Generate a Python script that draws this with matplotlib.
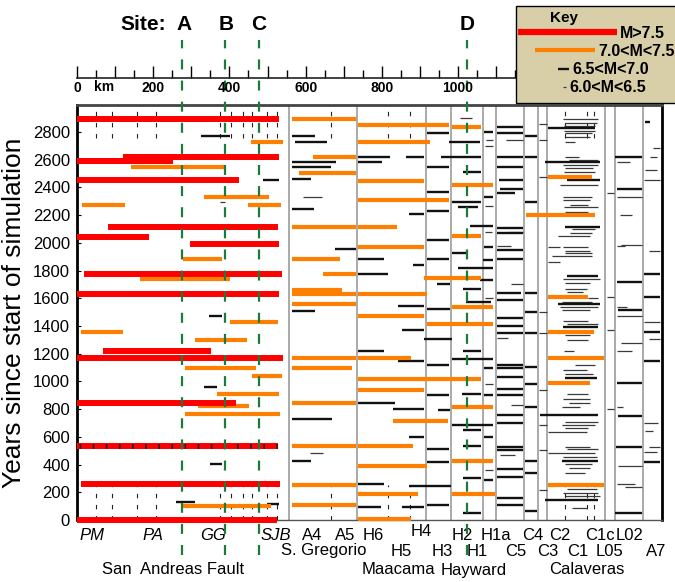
import numpy as np
import matplotlib
matplotlib.use('Agg')
import matplotlib.pyplot as plt
from matplotlib.transforms import blended_transform_factory
from matplotlib.patches import Rectangle
from matplotlib.lines import Line2D

plt.rcParams['font.family'] = ['Liberation Sans', 'DejaVu Sans']

# ruptures as (start km, end km, year)
quakes_m75 = [
    (0, 530, 2894), (121, 530, 2620), (0, 252, 2590), (0, 425, 2453),
    (81, 528, 2114), (0, 189, 2042), (297, 530, 1992), (18, 538, 1775),
    (0, 530, 1631), (68, 352, 1220), (0, 541, 1169), (0, 417, 844),
    (10, 533, 260), (0, 525, 0),
]
marked_quake = (0, 528, 534)

quakes_m70 = [
    # San Andreas
    (457, 541, 2728), (142, 388, 2547), (333, 504, 2331), (449, 535, 2273),
    (13, 126, 2273), (278, 381, 1883), (165, 402, 1739), (402, 528, 1429),
    (10, 121, 1357), (310, 446, 1299), (284, 470, 1097), (459, 538, 1039),
    (367, 530, 909), (318, 451, 823), (284, 533, 765), (278, 509, 101),
    # S. Gregorio
    (564, 732, 2894), (619, 732, 2620), (583, 732, 2504), (564, 732, 2114),
    (564, 690, 1883), (646, 732, 1775), (564, 696, 1660), (564, 732, 1631),
    (564, 732, 1559), (564, 732, 1169), (564, 722, 1097), (564, 732, 844),
    (564, 732, 534), (564, 732, 253), (564, 732, 108),
    # Maacama
    (737, 977, 2850), (737, 927, 2728), (737, 911, 2446), (737, 977, 2309),
    (737, 840, 2114), (737, 911, 1970), (737, 919, 1631), (737, 911, 1472),
    (737, 877, 1169), (737, 1061, 1020), (737, 911, 938), (829, 974, 714),
    (737, 882, 534), (737, 919, 390), (737, 895, 188), (737, 877, 5),
    # Hayward
    (984, 1061, 2836), (984, 1092, 2417), (984, 1061, 2049), (911, 1061, 1746),
    (984, 1092, 1537), (919, 1092, 1414), (984, 1092, 815), (984, 1092, 426),
    (984, 1097, 188),
    # Calaveras
    (1236, 1352, 2475), (1178, 1360, 2201), (1236, 1341, 1609), (1236, 1357, 1357),
    (1236, 1383, 1169), (1236, 1346, 989), (1236, 1383, 253),
]

quakes_m65 = [
    # San Andreas
    (325, 402, 2770), (488, 530, 2453), (270, 325, 1775), (346, 381, 1472),
    (333, 367, 960), (349, 381, 404), (260, 310, 130), (499, 530, 115),
    # S. Gregorio
    (564, 625, 2771), (572, 656, 2728), (564, 680, 2583), (564, 667, 2547),
    (564, 614, 2461), (564, 622, 2244), (677, 732, 1956), (564, 625, 1508),
    (564, 669, 729), (564, 614, 426),
    # Maacama
    (737, 821, 2620), (863, 911, 2620), (737, 800, 2583), (871, 911, 2208),
    (737, 805, 1883), (882, 911, 1840), (737, 816, 1775), (843, 911, 1544),
    (853, 911, 1371), (737, 805, 1220), (843, 911, 1148), (737, 834, 844),
    (829, 911, 801), (871, 911, 599), (737, 805, 260), (871, 982, 245),
    (737, 798, 94), (853, 911, 94),
    # H3
    (919, 976, 2793), (919, 976, 2547), (919, 976, 2367), (919, 976, 2230),
    (919, 976, 2020), (919, 976, 1883), (945, 979, 1703), (919, 979, 1523),
    (911, 984, 1306), (919, 976, 1118), (919, 976, 902), (948, 979, 794),
    (919, 976, 512), (919, 976, 418), (919, 976, 108),
    # Hayward
    (976, 1058, 2728), (955, 1060, 2620), (1013, 1060, 2511), (984, 1060, 2295),
    (1000, 1052, 2259), (1031, 1092, 2122), (984, 1021, 1927), (1000, 1092, 1818),
    (1013, 1060, 1667), (1021, 1087, 1573), (1013, 1060, 1220), (984, 1092, 1162),
    (1010, 1060, 909), (984, 1092, 686), (1013, 1060, 649), (1013, 1060, 534),
    (1013, 1060, 303), (1013, 1060, 51),
    # H1a
    (1068, 1092, 2803), (1068, 1092, 2334), (1068, 1092, 1968), (1065, 1092, 1877),
    (1057, 1092, 1732), (1068, 1092, 1095), (1068, 1092, 903), (1068, 1092, 602),
    (1068, 1092, 289),
    # C5
    (1102, 1171, 2836), (1102, 1171, 2793), (1102, 1171, 2620), (1102, 1171, 2547),
    (1106, 1171, 2453), (1110, 1171, 2389), (1102, 1150, 2360), (1102, 1171, 2107),
    (1102, 1171, 2071), (1102, 1171, 1948), (1102, 1171, 1883), (1102, 1166, 1638),
    (1102, 1171, 1588), (1102, 1171, 1458), (1102, 1171, 1400), (1102, 1171, 1349),
    (1102, 1171, 1118), (1102, 1171, 1097), (1102, 1171, 1032), (1102, 1171, 945),
    (1102, 1171, 902), (1102, 1171, 758), (1102, 1171, 700), (1102, 1171, 527),
    (1102, 1171, 505), (1102, 1171, 368), (1102, 1171, 310), (1102, 1171, 159),
    (1102, 1171, 108),
    # C4
    (1175, 1208, 2771), (1175, 1208, 2620), (1175, 1208, 2295), (1175, 1208, 1638),
    (1175, 1208, 1501), (1175, 1208, 1349), (1175, 1208, 1104), (1175, 1208, 981),
    (1175, 1208, 815), (1175, 1208, 426), (1175, 1208, 339), (1175, 1208, 65),
    # Calaveras (stronger ones)
    (1237, 1360, 2829), (1228, 1373, 2583), (1285, 1373, 2453), (1281, 1373, 2114),
    (1263, 1373, 1559), (1276, 1368, 1393), (1215, 1368, 758), (1272, 1368, 426),
    (1228, 1368, 144), (1281, 1364, 1025), (1285, 1368, 1761),
    # L02 / L05
    (1412, 1483, 2620), (1416, 1483, 2386), (1416, 1483, 1720), (1419, 1483, 1516),
    (1416, 1483, 992), (1419, 1483, 751), (1414, 1483, 530), (1412, 1483, 54),
    # A7
    (1489, 1530, 1776), (1489, 1530, 1607), (1489, 1530, 1360), (1489, 1530, 1150),
    (1489, 1530, 422), (1491, 1504, 2875),
]

quakes_m60 = [
    (375, 388, 2295), (593, 643, 2331), (612, 646, 483), (1005, 1037, 2901),
    (1072, 1092, 2742), (1070, 1092, 2699), (1070, 1092, 2266), (1070, 1090, 2081),
    (1070, 1092, 1600), (1070, 1092, 980), (1070, 1092, 361),
    (1126, 1171, 2742), (1130, 1171, 2081), (1102, 1140, 1980), (1140, 1171, 1700),
    (1102, 1130, 1310), (1140, 1171, 830), (1110, 1150, 470),
    (1212, 1232, 2858), (1212, 1232, 2740), (1212, 1232, 2475), (1212, 1232, 1501),
    (1212, 1232, 1349), (1212, 1232, 939), (1212, 1232, 686), (1212, 1232, 505),
    (1212, 1232, 216),
    # Calaveras swarms
    (1276, 1368, 2894), (1281, 1364, 2865), (1279, 1360, 2843), (1279, 1360, 2807),
    (1281, 1351, 2793), (1281, 1346, 2764), (1281, 1307, 2728),
    (1281, 1316, 2620), (1290, 1368, 2598), (1276, 1368, 2562), (1281, 1355, 2540),
    (1279, 1360, 2511), (1268, 1368, 2417),
    (1276, 1351, 2331), (1276, 1346, 2309), (1294, 1342, 2273), (1279, 1368, 2259),
    (1281, 1342, 2223),
    (1298, 1360, 2100), (1294, 1351, 2071), (1263, 1346, 2049), (1237, 1268, 1970),
    (1276, 1342, 1970), (1281, 1346, 1941), (1281, 1351, 1927), (1246, 1351, 1905),
    (1237, 1268, 1862),
    (1276, 1373, 1739), (1281, 1346, 1710), (1281, 1338, 1667), (1285, 1329, 1645),
    (1342, 1368, 1603), (1272, 1351, 1573), (1268, 1368, 1537), (1272, 1346, 1515),
    (1276, 1342, 1436), (1285, 1368, 1414), (1281, 1346, 1335), (1285, 1342, 1299),
    (1279, 1303, 1220),
    (1307, 1360, 1118), (1276, 1338, 1082), (1281, 1355, 1054),
    (1285, 1340, 909), (1276, 1346, 873), (1290, 1346, 844), (1272, 1320, 815),
    (1281, 1368, 707), (1272, 1360, 686), (1281, 1342, 664), (1237, 1338, 635),
    (1281, 1346, 527), (1285, 1368, 512), (1237, 1360, 483), (1276, 1364, 455),
    (1281, 1351, 404), (1290, 1346, 375), (1281, 1333, 339),
    (1285, 1364, 224), (1276, 1368, 195), (1281, 1373, 173), (1298, 1338, 87),
    (1390, 1408, 2357), (1390, 1408, 1612), (1390, 1408, 1371), (1390, 1408, 799),
    (1416, 1451, 2586), (1416, 1483, 2333), (1425, 1456, 2201), (1428, 1483, 1985),
    (1416, 1438, 1975), (1416, 1442, 1540), (1416, 1483, 1472), (1428, 1483, 1280),
    (1416, 1456, 1222), (1416, 1433, 818), (1419, 1483, 390), (1416, 1464, 260),
    (1438, 1483, 240),
    (1512, 1530, 2682), (1504, 1521, 2617), (1491, 1521, 2526), (1489, 1530, 2454),
    (1500, 1530, 1944), (1489, 1530, 1432), (1500, 1530, 1304), (1489, 1525, 703),
    (1491, 1512, 645), (1500, 1530, 530), (1489, 1521, 494),
]

column_edges_km = [556, 735, 916, 982, 1066, 1100, 1173, 1210, 1234, 1386, 1412, 1486]
segment_ticks_km = [50, 92, 157, 207, 375, 404, 436, 459, 499, 525, 667, 816, 874,
                    1281, 1338, 1357]

site_names = ['A', 'B', 'C', 'D']
site_km = [276, 389, 478, 1024]

seg_labels_row1 = ['PM', 'PA', 'GG', 'SJB', 'A4', 'A5', 'H6', 'H4', 'H2', 'H1a',
                   'C4', 'C2', 'C1c', 'L02']
seg_km_row1 = [39, 199, 357, 522, 617, 703, 777, 903, 1010, 1100, 1197, 1268, 1373, 1451]
seg_labels_row2 = ['S. Gregorio', 'H5', 'H3', 'H1', 'C5', 'C3', 'C1', 'L05', 'A7']
seg_km_row2 = [648, 850, 958, 1050, 1150, 1234, 1315, 1396, 1520]
fault_names = ['San  Andreas Fault', 'Maacama', 'Hayward', 'Calaveras']
fault_km = [252, 843, 1042, 1339]

W, H = 675, 582
def fx(px):
    return px / W
def fy(py):
    return 1 - py / H

fig = plt.figure(figsize=(W / 100, H / 100), dpi=100)
ax = fig.add_axes([fx(77), fy(520), fx(662) - fx(77), fy(105) - fy(520)])
ax.set_xlim(0, 1535)
ax.set_ylim(0, 2995)

def draw(events, color, lw, z):
    ev = np.array(events, dtype=float)
    ax.hlines(ev[:, 2], ev[:, 0], ev[:, 1], colors=color, linewidth=lw,
              capstyle='butt', zorder=z, clip_on=False)

ax.vlines(column_edges_km, 0, 2995, colors='#aaaaaa', linewidth=1.4, zorder=1)
for lo, hi in [(2760, 2995), (0, 250)]:
    ax.vlines(segment_ticks_km, lo, hi, colors='#222222', linewidth=0.8,
              linestyles=(0, (4, 6)), zorder=1)

draw(quakes_m60, '#3a3a3a', 0.9, 2)
draw(quakes_m65, '#111111', 1.7, 3)
draw(quakes_m70, '#ff8000', 3.0, 4)
draw(quakes_m75, '#ff0000', 4.3, 5)
ax.hlines(marked_quake[2], marked_quake[0], marked_quake[1], colors='#ff0000',
          linewidth=4.3, capstyle='butt', zorder=5)
ax.hlines(marked_quake[2], marked_quake[0] + 5, marked_quake[1], colors='#222222',
          linewidth=3.5, linestyles=(0, (0.35, 2.35)), zorder=5.5)

ax.vlines(site_km, -253, 3464, colors='#1b7a3c', linewidth=1.6,
          linestyles=(0, (4.5, 5)), zorder=7, clip_on=False)

for side in ['left', 'right']:
    ax.spines[side].set_linewidth(2)
    ax.spines[side].set_color('black')
ax.spines['top'].set_linewidth(2)
ax.spines['top'].set_color('#444444')
ax.spines['bottom'].set_linewidth(1)
ax.spines['bottom'].set_color('#555555')

ax.set_xticks([])
ax.set_yticks(np.arange(0, 2801, 200))
ax.tick_params(axis='y', direction='in', length=3, labelsize=12, pad=5)
ax.set_ylabel('Years since start of simulation', fontsize=19, labelpad=5)

# km scale above the plot
axk = fig.add_axes([fx(77), fy(78), fx(662) - fx(77), 0.03])
axk.set_xlim(0, 1535)
axk.patch.set_visible(False)
for side in ['left', 'right', 'top']:
    axk.spines[side].set_visible(False)
axk.spines['bottom'].set_bounds(0, 1150)
axk.spines['bottom'].set_color('#222222')
axk.spines['bottom'].set_linewidth(1.2)
axk.set_yticks([])
axk.set_xticks(np.arange(0, 1101, 100))
axk.set_xticks(np.arange(50, 1151, 100), minor=True)
axk.set_xticklabels(['0', '', '200', '', '400', '', '600', '', '800', '', '1000', ''],
                    fontweight='bold', fontsize=10)
axk.tick_params(axis='x', which='major', direction='in', length=8.5, width=1, pad=2)
axk.tick_params(axis='x', which='minor', direction='in', length=6, width=1)
axk.text(71, -0.1, 'km', transform=axk.get_xaxis_transform(), ha='center', va='top',
         fontsize=10, fontweight='bold')

# site labels
fig.text(fx(166), fy(25), 'Site:', ha='right', va='center', fontsize=15, fontweight='bold')
for name, px in zip(site_names, [184, 226, 259, 467]):
    fig.text(fx(px), fy(25), name, ha='center', va='center', fontsize=15, fontweight='bold')

# segment and fault names below
tr = blended_transform_factory(ax.transData, fig.transFigure)
for lab, km in zip(seg_labels_row1, seg_km_row1):
    italic = lab in ('PM', 'PA', 'GG', 'SJB')
    ypx = 531 if lab == 'H4' else 535
    ax.text(km, fy(ypx), lab, transform=tr, ha='center', va='center', fontsize=12,
            style='italic' if italic else 'normal')
for lab, km in zip(seg_labels_row2, seg_km_row2):
    ax.text(km, fy(551), lab, transform=tr, ha='center', va='center', fontsize=12)
for lab, km in zip(fault_names, fault_km):
    ax.text(km, fy(570), lab, transform=tr, ha='center', va='center', fontsize=12)

# key box
fig.patches.append(Rectangle((fx(516), fy(103)), fx(680) - fx(516), fy(6) - fy(103),
                             transform=fig.transFigure, facecolor='#d8cfa8',
                             edgecolor='black', linewidth=1, zorder=10))
fig.text(fx(564), fy(18), 'Key', ha='center', va='center', fontsize=11,
         fontweight='bold', zorder=11)
key_rows = [('M>7.5', '#ff0000', 4.5, 518, 617, 32),
            ('7.0<M<7.5', '#ff8000', 3.0, 535, 595, 50),
            ('6.5<M<7.0', '#111111', 1.7, 558, 569, 69),
            ('6.0<M<6.5', '#3a3a3a', 0.9, 563, 566, 87)]
for lab, col, lw, x0, x1, ypx in key_rows:
    fig.lines.append(Line2D([fx(x0), fx(x1)], [fy(ypx), fy(ypx)], color=col,
                            linewidth=lw, solid_capstyle='butt',
                            transform=fig.transFigure, zorder=11))
    fig.text(fx(x1 + 3), fy(ypx + 1), lab, ha='left', va='center', fontsize=11.5,
             fontweight='bold', zorder=11)

fig.savefig('out.png', dpi=100, facecolor='white')
